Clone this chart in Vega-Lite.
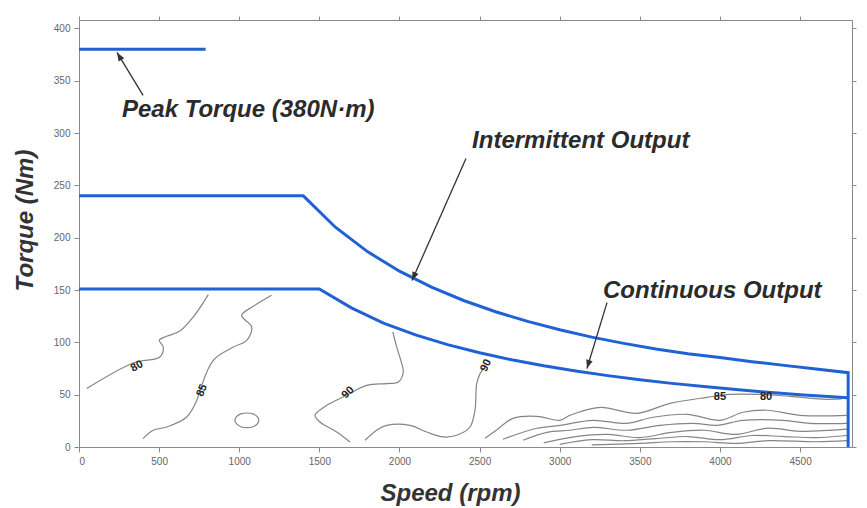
{
  "$schema": "https://vega.github.io/schema/vega-lite/v6.json",
  "width": 773,
  "height": 427,
  "autosize": {"type": "none"},
  "padding": {"left": 79, "top": 20, "right": 15, "bottom": 61},
  "background": "white",
  "config": {
    "view": {"stroke": null},
    "axis": {
      "labelFont": "Liberation Sans",
      "labelFontSize": 10,
      "labelColor": "#666666",
      "domainColor": "#8a8a8a",
      "tickColor": "#8a8a8a",
      "tickSize": 5,
      "grid": false
    }
  },
  "resolve": {"axis": {"x": "independent", "y": "independent"}},
  "datasets": {
    "contours": [
      {"c": "c1", "x": 48, "y": 55.8}, {"c": "c1", "x": 339, "y": 80.3}, {"c": "c1", "x": 505, "y": 86}, {"c": "c1", "x": 526, "y": 95.5}, {"c": "c1", "x": 501, "y": 102}, {"c": "c1", "x": 547, "y": 105.8}, {"c": "c1", "x": 630, "y": 110.8}, {"c": "c1", "x": 713, "y": 124.2}, {"c": "c1", "x": 807, "y": 145.6},
      {"c": "c2", "x": 400, "y": 8}, {"c": "c2", "x": 463, "y": 16}, {"c": "c2", "x": 547, "y": 19.1}, {"c": "c2", "x": 672, "y": 28.7}, {"c": "c2", "x": 735, "y": 44.6}, {"c": "c2", "x": 755, "y": 54.2}, {"c": "c2", "x": 838, "y": 82.8}, {"c": "c2", "x": 963, "y": 95.5}, {"c": "c2", "x": 1047, "y": 101.9}, {"c": "c2", "x": 1078, "y": 114.6}, {"c": "c2", "x": 1015, "y": 125.8}, {"c": "c2", "x": 1088, "y": 134.4}, {"c": "c2", "x": 1202, "y": 144.9},
      {"c": "c3", "x": 1123, "y": 25.5}, {"c": "c3", "x": 1113, "y": 29}, {"c": "c3", "x": 1086, "y": 31.6}, {"c": "c3", "x": 1048, "y": 32.5}, {"c": "c3", "x": 1010, "y": 31.6}, {"c": "c3", "x": 983, "y": 29}, {"c": "c3", "x": 973, "y": 25.5}, {"c": "c3", "x": 983, "y": 22}, {"c": "c3", "x": 1010, "y": 19.4}, {"c": "c3", "x": 1048, "y": 18.5}, {"c": "c3", "x": 1086, "y": 19.4}, {"c": "c3", "x": 1113, "y": 22}, {"c": "c3", "x": 1123, "y": 25.5},
      {"c": "c4", "x": 1958, "y": 109.9}, {"c": "c4", "x": 1983, "y": 95.5}, {"c": "c4", "x": 2014, "y": 79.7}, {"c": "c4", "x": 2024, "y": 71.7}, {"c": "c4", "x": 1993, "y": 62.1}, {"c": "c4", "x": 1920, "y": 60.6}, {"c": "c4", "x": 1795, "y": 58.9}, {"c": "c4", "x": 1670, "y": 49.4}, {"c": "c4", "x": 1546, "y": 39.8}, {"c": "c4", "x": 1473, "y": 30.3}, {"c": "c4", "x": 1504, "y": 23.9}, {"c": "c4", "x": 1608, "y": 14.3}, {"c": "c4", "x": 1691, "y": 4.8},
      {"c": "c5", "x": 1785, "y": 6.4}, {"c": "c5", "x": 1858, "y": 16}, {"c": "c5", "x": 1920, "y": 20.7}, {"c": "c5", "x": 2066, "y": 20.7}, {"c": "c5", "x": 2170, "y": 14.3}, {"c": "c5", "x": 2274, "y": 9.6}, {"c": "c5", "x": 2357, "y": 11.2}, {"c": "c5", "x": 2440, "y": 19.1}, {"c": "c5", "x": 2471, "y": 35.1}, {"c": "c5", "x": 2482, "y": 60.6}, {"c": "c5", "x": 2503, "y": 70.1}, {"c": "c5", "x": 2525, "y": 75},
      {"c": "c6", "x": 2534, "y": 8.3}, {"c": "c6", "x": 2620, "y": 18}, {"c": "c6", "x": 2709, "y": 27.4}, {"c": "c6", "x": 2858, "y": 29.3}, {"c": "c6", "x": 3002, "y": 25.5}, {"c": "c6", "x": 3064, "y": 30.3}, {"c": "c6", "x": 3252, "y": 37.9}, {"c": "c6", "x": 3483, "y": 32.2}, {"c": "c6", "x": 3688, "y": 41.7}, {"c": "c6", "x": 3919, "y": 47.5}, {"c": "c6", "x": 4063, "y": 50.3}, {"c": "c6", "x": 4250, "y": 50.3}, {"c": "c6", "x": 4437, "y": 48.4}, {"c": "c6", "x": 4668, "y": 45.6}, {"c": "c6", "x": 4760, "y": 46},
      {"c": "c7", "x": 2646, "y": 7.4}, {"c": "c7", "x": 2858, "y": 17.9}, {"c": "c7", "x": 3002, "y": 20.7}, {"c": "c7", "x": 3208, "y": 25.5}, {"c": "c7", "x": 3420, "y": 22.6}, {"c": "c7", "x": 3582, "y": 28.4}, {"c": "c7", "x": 3795, "y": 31.2}, {"c": "c7", "x": 4001, "y": 25.5}, {"c": "c7", "x": 4144, "y": 33.2}, {"c": "c7", "x": 4294, "y": 35.1}, {"c": "c7", "x": 4500, "y": 30.3}, {"c": "c7", "x": 4793, "y": 30.3},
      {"c": "c8", "x": 2771, "y": 6.4}, {"c": "c8", "x": 2920, "y": 14}, {"c": "c8", "x": 3064, "y": 16}, {"c": "c8", "x": 3208, "y": 18.8}, {"c": "c8", "x": 3420, "y": 16}, {"c": "c8", "x": 3626, "y": 20.7}, {"c": "c8", "x": 3832, "y": 22.6}, {"c": "c8", "x": 3982, "y": 20.7}, {"c": "c8", "x": 4144, "y": 25.5}, {"c": "c8", "x": 4394, "y": 25.5}, {"c": "c8", "x": 4562, "y": 22.6}, {"c": "c8", "x": 4793, "y": 22.6},
      {"c": "c9", "x": 2900, "y": 4}, {"c": "c9", "x": 3100, "y": 10}, {"c": "c9", "x": 3300, "y": 12}, {"c": "c9", "x": 3500, "y": 9}, {"c": "c9", "x": 3700, "y": 14}, {"c": "c9", "x": 3900, "y": 16}, {"c": "c9", "x": 4100, "y": 12}, {"c": "c9", "x": 4300, "y": 18}, {"c": "c9", "x": 4500, "y": 15}, {"c": "c9", "x": 4793, "y": 17},
      {"c": "c10", "x": 3000, "y": 2.5}, {"c": "c10", "x": 3200, "y": 7}, {"c": "c10", "x": 3400, "y": 6}, {"c": "c10", "x": 3600, "y": 8}, {"c": "c10", "x": 3800, "y": 10}, {"c": "c10", "x": 4000, "y": 7}, {"c": "c10", "x": 4200, "y": 11}, {"c": "c10", "x": 4400, "y": 10}, {"c": "c10", "x": 4600, "y": 9}, {"c": "c10", "x": 4793, "y": 11},
      {"c": "c11", "x": 3200, "y": 2}, {"c": "c11", "x": 3500, "y": 3.5}, {"c": "c11", "x": 3700, "y": 5}, {"c": "c11", "x": 3900, "y": 5}, {"c": "c11", "x": 4100, "y": 3.5}, {"c": "c11", "x": 4300, "y": 6}, {"c": "c11", "x": 4600, "y": 5}, {"c": "c11", "x": 4793, "y": 6}
    ],
    "curves": [
      {"c": "peak", "x": 0, "y": 380}, {"c": "peak", "x": 790, "y": 380},
      {"c": "inter", "x": 0, "y": 240}, {"c": "inter", "x": 1400, "y": 240}, {"c": "inter", "x": 1600, "y": 210}, {"c": "inter", "x": 1800, "y": 186.7}, {"c": "inter", "x": 2000, "y": 168}, {"c": "inter", "x": 2200, "y": 152.7}, {"c": "inter", "x": 2400, "y": 140}, {"c": "inter", "x": 2600, "y": 129.2}, {"c": "inter", "x": 2800, "y": 120}, {"c": "inter", "x": 3000, "y": 112}, {"c": "inter", "x": 3200, "y": 105}, {"c": "inter", "x": 3400, "y": 99}, {"c": "inter", "x": 3600, "y": 93.6}, {"c": "inter", "x": 3800, "y": 89}, {"c": "inter", "x": 4000, "y": 85.5}, {"c": "inter", "x": 4200, "y": 81.5}, {"c": "inter", "x": 4400, "y": 78}, {"c": "inter", "x": 4600, "y": 74.5}, {"c": "inter", "x": 4800, "y": 71}, {"c": "inter", "x": 4800, "y": 0},
      {"c": "cont", "x": 0, "y": 151}, {"c": "cont", "x": 1500, "y": 151}, {"c": "cont", "x": 1700, "y": 133}, {"c": "cont", "x": 1900, "y": 118.4}, {"c": "cont", "x": 2100, "y": 107.1}, {"c": "cont", "x": 2300, "y": 97.8}, {"c": "cont", "x": 2500, "y": 90}, {"c": "cont", "x": 2700, "y": 83.3}, {"c": "cont", "x": 2900, "y": 77.6}, {"c": "cont", "x": 3100, "y": 72.6}, {"c": "cont", "x": 3300, "y": 68.2}, {"c": "cont", "x": 3500, "y": 64.3}, {"c": "cont", "x": 3700, "y": 60.8}, {"c": "cont", "x": 3900, "y": 57.7}, {"c": "cont", "x": 4100, "y": 54.9}, {"c": "cont", "x": 4300, "y": 52.3}, {"c": "cont", "x": 4500, "y": 50}, {"c": "cont", "x": 4700, "y": 47.9}, {"c": "cont", "x": 4795, "y": 47}
    ],
    "arrows": [
      {"a": "peak", "x": 400, "y": 336, "x2": 237, "y2": 377},
      {"a": "inter", "x": 2415, "y": 275.6, "x2": 2078, "y2": 159},
      {"a": "cont", "x": 3295, "y": 138, "x2": 3170, "y2": 75}
    ],
    "notes": [
      {"t": "Peak Torque (380N·m)", "x": 268, "y": 321.7},
      {"t": "Intermittent Output", "x": 2453, "y": 292},
      {"t": "Continuous Output", "x": 3270, "y": 148.8}
    ],
    "labels": [
      {"k": "a", "t": "80", "x": 362, "y": 77},
      {"k": "b", "t": "85", "x": 768, "y": 54},
      {"k": "c", "t": "90", "x": 1679, "y": 52},
      {"k": "d", "t": "90", "x": 2540, "y": 78},
      {"k": "e", "t": "85", "x": 4000, "y": 48},
      {"k": "e", "t": "80", "x": 4288, "y": 48}
    ]
  },
  "layer": [
    {
      "data": {"name": "contours"},
      "mark": {"type": "line", "color": "#858585", "strokeWidth": 1.2, "interpolate": "catmull-rom"},
      "encoding": {
        "x": {"field": "x", "type": "quantitative", "scale": {"domain": [0, 4824], "nice": false, "zero": false},
          "axis": {"orient": "bottom", "values": [0, 500, 1000, 1500, 2000, 2500, 3000, 3500, 4000, 4500], "format": "d", "title": "Speed (rpm)",
            "titleFont": "Liberation Sans", "titleFontSize": 24, "titleFontStyle": "italic", "titleFontWeight": "bold", "titleColor": "#333333",
            "titleX": 371, "titleY": 46, "titleBaseline": "middle", "titleAnchor": "middle", "labelPadding": 4}},
        "y": {"field": "y", "type": "quantitative", "scale": {"domain": [0, 408], "nice": false, "zero": false},
          "axis": {"orient": "left", "values": [0, 50, 100, 150, 200, 250, 300, 350, 400], "format": "d", "title": "Torque (Nm)",
            "titleFont": "Liberation Sans", "titleFontSize": 24, "titleFontStyle": "italic", "titleFontWeight": "bold", "titleColor": "#333333",
            "titleX": -54, "titleY": 200, "titleAngle": 270, "titleBaseline": "middle", "titleAlign": "center", "labelPadding": 4}},
        "detail": {"field": "c"},
        "order": {"value": null}
      }
    },
    {
      "data": {"name": "curves"},
      "mark": {"type": "line", "color": "#1f62d3", "strokeWidth": 3},
      "encoding": {
        "x": {"field": "x", "type": "quantitative", "scale": {"domain": [0, 4824], "nice": false, "zero": false},
          "axis": {"orient": "top", "labels": false, "title": null, "tickSize": 4, "values": [0, 500, 1000, 1500, 2000, 2500, 3000, 3500, 4000, 4500]}},
        "y": {"field": "y", "type": "quantitative", "scale": {"domain": [0, 408], "nice": false, "zero": false},
          "axis": {"orient": "right", "labels": false, "title": null, "tickSize": 4, "values": [0, 50, 100, 150, 200, 250, 300, 350, 400]}},
        "detail": {"field": "c"},
        "order": {"value": null}
      }
    },
    {
      "data": {"name": "arrows"},
      "mark": {"type": "rule", "color": "#333333", "strokeWidth": 1.3},
      "encoding": {
        "x": {"field": "x", "type": "quantitative", "axis": null},
        "y": {"field": "y", "type": "quantitative", "axis": null},
        "x2": {"field": "x2"},
        "y2": {"field": "y2"}
      }
    },
    {
      "data": {"name": "arrows"},
      "transform": [{"filter": "datum.a == 'peak'"}],
      "mark": {"type": "point", "shape": "M0,0L-0.38,1L0.38,1Z", "filled": true, "color": "#333333", "opacity": 1, "size": 300, "angle": 329},
      "encoding": {
        "x": {"field": "x2", "type": "quantitative", "axis": null},
        "y": {"field": "y2", "type": "quantitative", "axis": null}
      }
    },
    {
      "data": {"name": "arrows"},
      "transform": [{"filter": "datum.a == 'inter'"}],
      "mark": {"type": "point", "shape": "M0,0L-0.38,1L0.38,1Z", "filled": true, "color": "#333333", "opacity": 1, "size": 300, "angle": 204},
      "encoding": {
        "x": {"field": "x2", "type": "quantitative", "axis": null},
        "y": {"field": "y2", "type": "quantitative", "axis": null}
      }
    },
    {
      "data": {"name": "arrows"},
      "transform": [{"filter": "datum.a == 'cont'"}],
      "mark": {"type": "point", "shape": "M0,0L-0.38,1L0.38,1Z", "filled": true, "color": "#333333", "opacity": 1, "size": 300, "angle": 197},
      "encoding": {
        "x": {"field": "x2", "type": "quantitative", "axis": null},
        "y": {"field": "y2", "type": "quantitative", "axis": null}
      }
    },
    {
      "data": {"name": "notes"},
      "mark": {"type": "text", "align": "left", "baseline": "middle", "font": "Liberation Sans", "fontSize": 24, "fontStyle": "italic", "fontWeight": "bold", "color": "#2b2b2b"},
      "encoding": {
        "x": {"field": "x", "type": "quantitative", "axis": null},
        "y": {"field": "y", "type": "quantitative", "axis": null},
        "text": {"field": "t"}
      }
    },
    {
      "data": {"name": "labels"},
      "transform": [{"filter": "datum.k == 'a'"}],
      "mark": {"type": "text", "align": "center", "baseline": "middle", "font": "Liberation Sans", "fontSize": 11, "fontWeight": "bold", "color": "#222222", "angle": 331},
      "encoding": {"x": {"field": "x", "type": "quantitative", "axis": null}, "y": {"field": "y", "type": "quantitative", "axis": null}, "text": {"field": "t"}}
    },
    {
      "data": {"name": "labels"},
      "transform": [{"filter": "datum.k == 'b'"}],
      "mark": {"type": "text", "align": "center", "baseline": "middle", "font": "Liberation Sans", "fontSize": 11, "fontWeight": "bold", "color": "#222222", "angle": 293},
      "encoding": {"x": {"field": "x", "type": "quantitative", "axis": null}, "y": {"field": "y", "type": "quantitative", "axis": null}, "text": {"field": "t"}}
    },
    {
      "data": {"name": "labels"},
      "transform": [{"filter": "datum.k == 'c'"}],
      "mark": {"type": "text", "align": "center", "baseline": "middle", "font": "Liberation Sans", "fontSize": 11, "fontWeight": "bold", "color": "#222222", "angle": 315},
      "encoding": {"x": {"field": "x", "type": "quantitative", "axis": null}, "y": {"field": "y", "type": "quantitative", "axis": null}, "text": {"field": "t"}}
    },
    {
      "data": {"name": "labels"},
      "transform": [{"filter": "datum.k == 'd'"}],
      "mark": {"type": "text", "align": "center", "baseline": "middle", "font": "Liberation Sans", "fontSize": 11, "fontWeight": "bold", "color": "#222222", "angle": 295},
      "encoding": {"x": {"field": "x", "type": "quantitative", "axis": null}, "y": {"field": "y", "type": "quantitative", "axis": null}, "text": {"field": "t"}}
    },
    {
      "data": {"name": "labels"},
      "transform": [{"filter": "datum.k == 'e'"}],
      "mark": {"type": "text", "align": "center", "baseline": "middle", "font": "Liberation Sans", "fontSize": 11, "fontWeight": "bold", "color": "#222222"},
      "encoding": {"x": {"field": "x", "type": "quantitative", "axis": null}, "y": {"field": "y", "type": "quantitative", "axis": null}, "text": {"field": "t"}}
    }
  ]
}
